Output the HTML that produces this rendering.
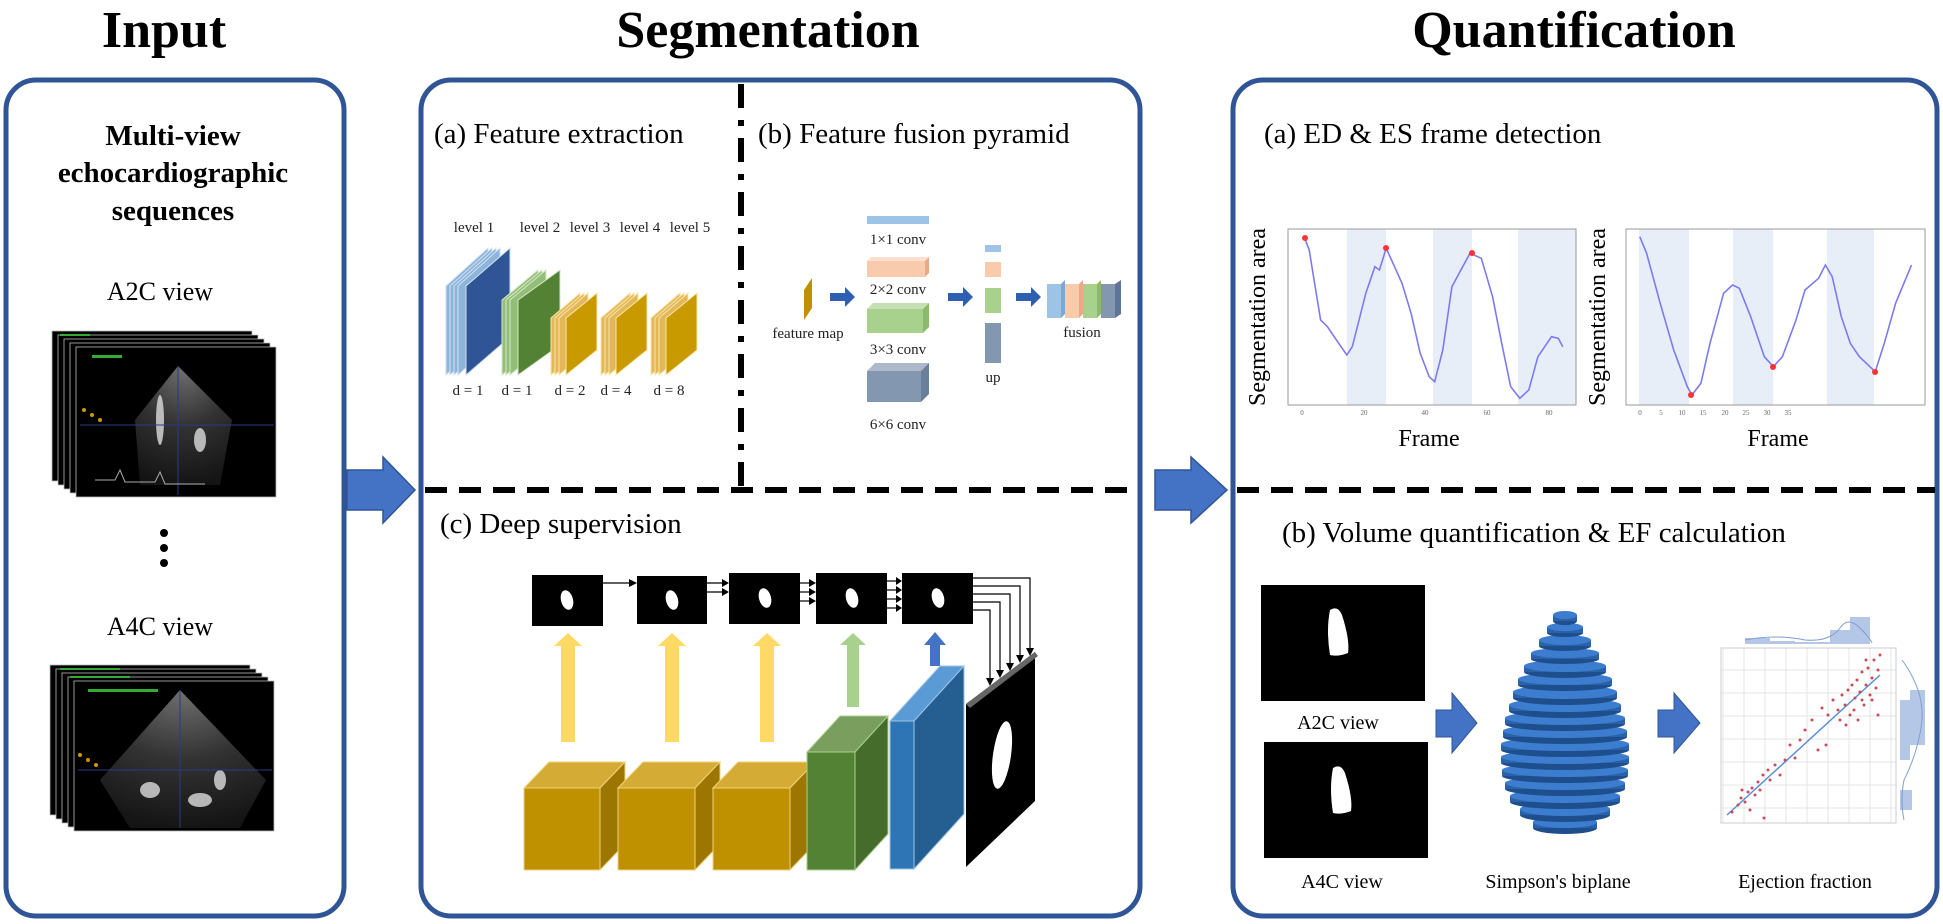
<!DOCTYPE html>
<html><head><meta charset="utf-8"><style>html,body{margin:0;padding:0;background:#fff}svg{display:block}text{font-family:"Liberation Serif",serif}</style></head>
<body>
<svg width="1943" height="924" viewBox="0 0 1943 924" xmlns="http://www.w3.org/2000/svg">
<defs>
<radialGradient id="fan" cx="0.5" cy="0" r="1"><stop offset="0" stop-color="#bbb"/><stop offset="0.5" stop-color="#555"/><stop offset="1" stop-color="#222"/></radialGradient>
</defs>
<g font-weight="bold" font-size="52" text-anchor="middle">
<text x="164" y="47">Input</text>
<text x="768" y="47">Segmentation</text>
<text x="1574" y="47">Quantification</text>
</g>
<g fill="none" stroke="#2F5597" stroke-width="5">
<rect x="6" y="80" width="338" height="836" rx="30"/>
<rect x="421" y="80" width="719" height="836" rx="30"/>
<rect x="1233" y="80" width="704" height="836" rx="30"/>
</g>
<g fill="#4472C4" stroke="#2F5597" stroke-width="1.5">
<polygon points="347,470 383,470 383,457 415,490 383,523 383,510 347,510"/>
<polygon points="1155,470 1191,470 1191,457 1227,490 1191,523 1191,510 1155,510"/>
</g>
<g stroke="#000" stroke-width="6" fill="none">
<line x1="425" y1="490" x2="1137" y2="490" stroke-dasharray="22 12"/>
<line x1="1237" y1="490" x2="1935" y2="490" stroke-dasharray="22 12"/>
<line x1="741" y1="84" x2="741" y2="490" stroke-dasharray="24 12 6 12"/>
</g>
<g font-weight="bold" font-size="29" text-anchor="middle">
<text x="173" y="145">Multi-view</text>
<text x="173" y="182">echocardiographic</text>
<text x="173" y="220">sequences</text>
</g>
<g font-size="26" text-anchor="middle">
<text x="160" y="300">A2C view</text>
<text x="160" y="635">A4C view</text>
</g>
<g stroke="#bbb" stroke-width="0.8" fill="#000">
<rect x="52" y="331" width="200" height="150"/><rect x="58" y="335" width="200" height="150"/><rect x="64" y="339" width="200" height="150"/><rect x="70" y="343" width="200" height="150"/><rect x="76" y="347" width="200" height="150"/>
<rect x="50" y="665" width="200" height="150"/><rect x="56" y="669" width="200" height="150"/><rect x="62" y="673" width="200" height="150"/><rect x="68" y="677" width="200" height="150"/><rect x="74" y="681" width="200" height="150"/>
</g>
<polygon points="178,366 135,420 140,485 220,485 232,420" fill="url(#fan)" opacity="0.6"/>
<polygon points="180,690 100,780 130,828 240,828 266,780" fill="url(#fan)" opacity="0.6"/>
<g fill="#ddd" opacity="0.8"><ellipse cx="160" cy="420" rx="4" ry="25"/><ellipse cx="200" cy="440" rx="6" ry="12"/><ellipse cx="150" cy="790" rx="10" ry="8"/><ellipse cx="200" cy="800" rx="12" ry="7"/><ellipse cx="220" cy="780" rx="6" ry="10"/></g>
<g stroke="#2a3a80" stroke-width="1"><line x1="80" y1="425" x2="274" y2="425"/><line x1="178" y1="366" x2="178" y2="495"/><line x1="78" y1="770" x2="272" y2="770"/><line x1="180" y1="690" x2="180" y2="828"/></g>
<g fill="#3a3" ><rect x="92" y="355" width="30" height="3"/><rect x="60" y="334" width="30" height="2"/><rect x="88" y="689" width="70" height="3"/><rect x="60" y="668" width="60" height="2"/><rect x="70" y="676" width="60" height="2"/></g>
<g fill="#c90"><circle cx="84" cy="410" r="2"/><circle cx="92" cy="415" r="2"/><circle cx="100" cy="420" r="2"/><circle cx="80" cy="755" r="2"/><circle cx="88" cy="760" r="2"/><circle cx="96" cy="765" r="2"/></g>
<path d="M95,480 l20,0 l5,-10 l5,12 l30,0 l5,-10 l5,12 l40,0" stroke="#aaa" fill="none" stroke-width="1"/>
<g fill="#000"><circle cx="164" cy="533" r="4"/><circle cx="164" cy="548" r="4"/><circle cx="164" cy="563" r="4"/></g>

<g font-size="29">
<text x="434" y="143">(a) Feature extraction</text>
<text x="758" y="143">(b) Feature fusion pyramid</text>
<text x="440" y="533">(c) Deep supervision</text>
</g>
<g font-size="15" text-anchor="middle" fill="#222">
<text x="474" y="232">level 1</text><text x="540" y="232">level 2</text><text x="590" y="232">level 3</text><text x="640" y="232">level 4</text><text x="690" y="232">level 5</text>
<text x="468" y="395">d = 1</text><text x="517" y="395">d = 1</text><text x="570" y="395">d = 2</text><text x="616" y="395">d = 4</text><text x="669" y="395">d = 8</text>
</g>
<g stroke="#cfe2f3" stroke-width="1">
<polygon points="446,286 488,248 488,337 446,375" fill="#8FB4DA"/><polygon points="450,286 492,248 492,337 450,375" fill="#8FB4DA"/><polygon points="454,286 496,248 496,337 454,375" fill="#8FB4DA"/><polygon points="458,286 500,248 500,337 458,375" fill="#8FB4DA"/>
<polygon points="466,286 510,248 510,337 466,375" fill="#2F5597"/>
</g>
<g stroke="#d5e8c8" stroke-width="1">
<polygon points="502,300 538,270 538,345 502,375" fill="#93BE78"/><polygon points="506,300 542,270 542,345 506,375" fill="#93BE78"/><polygon points="510,300 546,270 546,345 510,375" fill="#93BE78"/>
<polygon points="518,300 560,270 560,345 518,375" fill="#548235"/>
</g>
<g stroke="#fbe6a8" stroke-width="1">
<polygon points="551,318 580,293 580,350 551,375" fill="#E2B85A"/><polygon points="555,318 584,293 584,350 555,375" fill="#E2B85A"/><polygon points="559,318 588,293 588,350 559,375" fill="#E2B85A"/><polygon points="566,318 597,293 597,350 566,375" fill="#C89A00"/>
<polygon points="601,318 630,293 630,350 601,375" fill="#E2B85A"/><polygon points="605,318 634,293 634,350 605,375" fill="#E2B85A"/><polygon points="609,318 638,293 638,350 609,375" fill="#E2B85A"/><polygon points="616,318 647,293 647,350 616,375" fill="#C89A00"/>
<polygon points="651,318 680,293 680,350 651,375" fill="#E2B85A"/><polygon points="655,318 684,293 684,350 655,375" fill="#E2B85A"/><polygon points="659,318 688,293 688,350 659,375" fill="#E2B85A"/><polygon points="666,318 697,293 697,350 666,375" fill="#C89A00"/>
</g>
<polygon points="804,290 812,278 812,308 804,320" fill="#BF9000"/>
<g font-size="15" text-anchor="middle" fill="#222">
<text x="808" y="338">feature map</text>
<text x="898" y="244">1×1 conv</text><text x="898" y="294">2×2 conv</text><text x="898" y="354">3×3 conv</text><text x="898" y="429">6×6 conv</text>
<text x="993" y="382">up</text><text x="1082" y="337">fusion</text>
</g>
<rect x="867" y="216" width="62" height="8" fill="#9DC3E6"/>
<rect x="867" y="261" width="58" height="16" fill="#F8CBAD"/><polygon points="867,261 871,257 929,257 925,261" fill="#FBE0CF"/><polygon points="925,261 929,257 929,273 925,277" fill="#E9A989"/>
<rect x="867" y="309" width="56" height="24" fill="#A9D18E"/><polygon points="867,309 873,303 929,303 923,309" fill="#C5E0B4"/><polygon points="923,309 929,303 929,327 923,333" fill="#8DB96E"/>
<rect x="867" y="371" width="54" height="31" fill="#8497B0"/><polygon points="867,371 875,363 929,363 921,371" fill="#ADB9CA"/><polygon points="921,371 929,363 929,394 921,402" fill="#6A7F9C"/>
<rect x="985" y="245" width="16" height="7" fill="#9DC3E6"/>
<rect x="985" y="262" width="16" height="15" fill="#F8CBAD"/>
<rect x="985" y="288" width="16" height="25" fill="#A9D18E"/>
<rect x="985" y="323" width="16" height="40" fill="#8497B0"/>
<g>
<rect x="1047" y="284" width="14" height="34" fill="#9DC3E6"/><polygon points="1061,284 1065,280 1065,314 1061,318" fill="#7FA7D3"/>
<rect x="1065" y="284" width="14" height="34" fill="#F8CBAD"/><polygon points="1079,284 1083,280 1083,314 1079,318" fill="#E9A989"/>
<rect x="1083" y="284" width="14" height="34" fill="#A9D18E"/><polygon points="1097,284 1101,280 1101,314 1097,318" fill="#8DB96E"/>
<rect x="1101" y="284" width="14" height="34" fill="#8497B0"/><polygon points="1115,284 1121,280 1121,314 1115,318" fill="#5F7496"/>
</g>
<g fill="#2F5FB0">
<polygon points="830,293 845,293 845,287 855,297 845,307 845,301 830,301"/>
<polygon points="948,293 963,293 963,287 973,297 963,307 963,301 948,301"/>
<polygon points="1016,293 1031,293 1031,287 1041,297 1031,307 1031,301 1016,301"/>
</g>
<g fill="#000">
<rect x="532" y="575" width="71" height="51"/><rect x="637" y="576" width="70" height="48"/><rect x="729" y="573" width="71" height="51"/><rect x="816" y="573" width="71" height="51"/><rect x="902" y="573" width="71" height="51"/>
</g>
<g fill="#fff">
<ellipse cx="567" cy="600" rx="6" ry="10" transform="rotate(-15 567 600)"/>
<ellipse cx="672" cy="600" rx="6" ry="10" transform="rotate(-15 672 600)"/>
<ellipse cx="765" cy="598" rx="6" ry="10" transform="rotate(-15 765 598)"/>
<ellipse cx="852" cy="598" rx="6" ry="10" transform="rotate(-15 852 598)"/>
<ellipse cx="938" cy="598" rx="6" ry="10" transform="rotate(-15 938 598)"/>
</g>
<g stroke="#000" stroke-width="1.2" fill="none">
<line x1="603" y1="583" x2="633" y2="583"/>
<line x1="707" y1="583" x2="726" y2="583"/><line x1="707" y1="592" x2="726" y2="592"/>
<line x1="800" y1="583" x2="813" y2="583"/><line x1="800" y1="592" x2="813" y2="592"/><line x1="800" y1="601" x2="813" y2="601"/>
<line x1="887" y1="581" x2="899" y2="581"/><line x1="887" y1="590" x2="899" y2="590"/><line x1="887" y1="599" x2="899" y2="599"/><line x1="887" y1="608" x2="899" y2="608"/>
<polyline points="973,578 1030,578 1030,652"/><polyline points="973,586 1020,586 1020,659"/><polyline points="973,594 1010,594 1010,667"/><polyline points="973,602 1000,602 1000,674"/><polyline points="973,610 990,610 990,682"/>
</g>
<g fill="#000">
<polygon points="637,583 629,579 629,587"/>
<polygon points="729,583 722,579 722,587"/><polygon points="729,592 722,588 722,596"/>
<polygon points="816,583 809,579 809,587"/><polygon points="816,592 809,588 809,596"/><polygon points="816,601 809,597 809,605"/>
<polygon points="902,581 896,577 896,585"/><polygon points="902,590 896,586 896,594"/><polygon points="902,599 896,595 896,603"/><polygon points="902,608 896,604 896,612"/>
<polygon points="1030,656 1026,648 1034,648"/><polygon points="1020,663 1016,655 1024,655"/><polygon points="1010,671 1006,663 1014,663"/><polygon points="1000,678 996,670 1004,670"/><polygon points="990,686 986,678 994,678"/>
</g>
<g fill="#FFD966">
<polygon points="561,742 575,742 575,646 582,646 568,633 554,646 561,646"/>
<polygon points="665,742 679,742 679,646 686,646 672,633 658,646 665,646"/>
<polygon points="760,742 774,742 774,646 781,646 767,633 753,646 760,646"/>
</g>
<polygon points="847,707 859,707 859,645 866,645 853,633 840,645 847,645" fill="#A9D18E"/>
<polygon points="930,666 940,666 940,645 946,645 935,632 924,645 930,645" fill="#4472C4"/>
<g stroke="#F2D27A" stroke-width="1">
<polygon points="524,788 549,762 625,762 600,788" fill="#D4AC35"/><polygon points="600,788 625,762 625,844 600,870" fill="#9C7600"/><rect x="524" y="788" width="76" height="82" fill="#BF9000"/>
<polygon points="618,788 643,762 720,762 695,788" fill="#D4AC35"/><polygon points="695,788 720,762 720,844 695,870" fill="#9C7600"/><rect x="618" y="788" width="77" height="82" fill="#BF9000"/>
<polygon points="713,788 738,762 815,762 790,788" fill="#D4AC35"/><polygon points="790,788 815,762 815,844 790,870" fill="#9C7600"/><rect x="713" y="788" width="77" height="82" fill="#BF9000"/>
</g>
<g stroke="#A9D18E" stroke-width="1">
<polygon points="807,752 840,716 888,716 855,752" fill="#7A9E5E"/><polygon points="855,752 888,716 888,834 855,870" fill="#466C2C"/><rect x="807" y="752" width="48" height="118" fill="#548235"/>
</g>
<g stroke="#9DC3E6" stroke-width="1">
<polygon points="890,721 940,666 964,666 914,721" fill="#5B9BD5"/><polygon points="914,721 964,666 964,814 914,869" fill="#255E91"/><rect x="890" y="721" width="24" height="148" fill="#2E75B6"/>
</g>
<polygon points="966,704 1035,652 1035,801 966,867" fill="#000"/>
<polygon points="966,704 1035,652 1038,656 970,708" fill="#666"/>
<ellipse cx="1002" cy="755" rx="9" ry="34" fill="#fff" transform="rotate(8 1002 755)"/>

<g font-size="29">
<text x="1264" y="143">(a) ED &amp; ES frame detection</text>
<text x="1282" y="542">(b) Volume quantification &amp; EF calculation</text>
</g>
<g fill="#E8EEF8">
<rect x="1347" y="229" width="39" height="176"/><rect x="1433" y="229" width="39" height="176"/><rect x="1518" y="229" width="58" height="176"/>
<rect x="1639" y="229" width="50" height="176"/><rect x="1733" y="229" width="40" height="176"/><rect x="1827" y="229" width="47" height="176"/>
</g>
<g fill="none" stroke="#999" stroke-width="1">
<rect x="1288" y="229" width="288" height="176"/><rect x="1626" y="229" width="299" height="176"/>
</g>
<polyline fill="none" stroke="#7B7BF0" stroke-width="1.6" points="1304.7,238.3 1309.2,250 1320.6,320 1327.4,326.7 1338.7,343.3 1346.8,355 1352.3,346.7 1365.8,293.3 1374.9,266.7 1379.4,270 1386.2,248.3 1393,263.3 1402,283.3 1411.1,313.3 1420.2,353.3 1429.2,376.7 1434.7,381.7 1442.8,350 1451.9,286.7 1460.9,270 1470,253.3 1481.3,258.3 1492.6,296.7 1501.7,343.3 1510.7,386.7 1519.8,398.3 1528.8,390 1537.9,356.7 1547,343.3 1551.5,336.7 1558.3,338.3 1562.8,346.7"/>
<polyline fill="none" stroke="#7B7BF0" stroke-width="1.6" points="1639.8,236.7 1646.6,253.3 1660.2,303.3 1673.7,350 1687.3,386.7 1691.9,395 1700.9,383.3 1710,343.3 1723.6,293.3 1732.6,285 1739.4,288.3 1750.7,316.7 1764.3,356.7 1773.4,366.7 1782.4,356.7 1796,320 1805,290 1818.6,278.3 1825.4,265 1832.2,276.7 1841.3,316.7 1850.3,343.3 1859.4,356.7 1875.2,371.7 1884.3,343.3 1895.6,303.3 1911.5,265"/>
<g fill="#f33"><circle cx="1305" cy="238" r="3"/><circle cx="1386" cy="248" r="3"/><circle cx="1472" cy="253" r="3"/><circle cx="1691" cy="395" r="3"/><circle cx="1773" cy="367" r="3"/><circle cx="1875" cy="372" r="3"/></g>
<g font-size="7" fill="#666" text-anchor="middle">
<text x="1302" y="415">0</text><text x="1364" y="415">20</text><text x="1425" y="415">40</text><text x="1487" y="415">60</text><text x="1549" y="415">80</text>
<text x="1640" y="415">0</text><text x="1661" y="415">5</text><text x="1682" y="415">10</text><text x="1703" y="415">15</text><text x="1725" y="415">20</text><text x="1746" y="415">25</text><text x="1767" y="415">30</text><text x="1788" y="415">35</text>
</g>
<g font-size="24" text-anchor="middle">
<text x="1429" y="446">Frame</text><text x="1778" y="446">Frame</text>
<text transform="translate(1265 317) rotate(-90)">Segmentation area</text>
<text transform="translate(1605 317) rotate(-90)">Segmentation area</text>
</g>
<rect x="1261" y="585" width="164" height="116" fill="#000"/>
<rect x="1264" y="742" width="164" height="116" fill="#000"/>
<path d="M1330,610 q8,-5 12,5 q8,25 6,38 q-10,4 -18,2 q-4,-25 0,-45z" fill="#fff"/>
<path d="M1333,768 q8,-5 12,5 q8,25 6,38 q-10,4 -18,2 q-4,-25 0,-45z" fill="#fff"/>
<g font-size="20" text-anchor="middle">
<text x="1338" y="729">A2C view</text><text x="1342" y="888">A4C view</text>
<text x="1558" y="888">Simpson's biplane</text><text x="1805" y="888">Ejection fraction</text>
</g>
<g fill="#4472C4" stroke="#2F5597">
<polygon points="1436,710 1452,710 1452,693 1477,723 1452,753 1452,737 1436,737"/>
<polygon points="1658,710 1674,710 1674,693 1700,723 1674,753 1674,737 1658,737"/>
</g>
<g>
<g><ellipse cx="1565" cy="828" rx="32" ry="6" fill="#1F4E8C"/><rect x="1533" y="822" width="64" height="6" fill="#2A62AA"/><ellipse cx="1565" cy="822" rx="32" ry="6" fill="#3C7DD0"/></g>
<g><ellipse cx="1565" cy="815" rx="45" ry="7" fill="#1F4E8C"/><rect x="1520" y="809" width="90" height="6" fill="#2A62AA"/><ellipse cx="1565" cy="809" rx="45" ry="7" fill="#3C7DD0"/></g>
<g><ellipse cx="1565" cy="802" rx="55" ry="7" fill="#1F4E8C"/><rect x="1510" y="796" width="110" height="6" fill="#2A62AA"/><ellipse cx="1565" cy="796" rx="55" ry="7" fill="#3C7DD0"/></g>
<g><ellipse cx="1565" cy="789" rx="60" ry="7" fill="#1F4E8C"/><rect x="1505" y="783" width="120" height="6" fill="#2A62AA"/><ellipse cx="1565" cy="783" rx="60" ry="7" fill="#3C7DD0"/></g>
<g><ellipse cx="1565" cy="776" rx="63" ry="7" fill="#1F4E8C"/><rect x="1502" y="770" width="126" height="6" fill="#2A62AA"/><ellipse cx="1565" cy="770" rx="63" ry="7" fill="#3C7DD0"/></g>
<g><ellipse cx="1565" cy="763" rx="64" ry="7" fill="#1F4E8C"/><rect x="1501" y="757" width="128" height="6" fill="#2A62AA"/><ellipse cx="1565" cy="757" rx="64" ry="7" fill="#3C7DD0"/></g>
<g><ellipse cx="1565" cy="750" rx="64" ry="7" fill="#1F4E8C"/><rect x="1501" y="744" width="128" height="6" fill="#2A62AA"/><ellipse cx="1565" cy="744" rx="64" ry="7" fill="#3C7DD0"/></g>
<g><ellipse cx="1565" cy="737" rx="62" ry="7" fill="#1F4E8C"/><rect x="1503" y="731" width="124" height="6" fill="#2A62AA"/><ellipse cx="1565" cy="731" rx="62" ry="7" fill="#3C7DD0"/></g>
<g><ellipse cx="1565" cy="724" rx="60" ry="7" fill="#1F4E8C"/><rect x="1505" y="718" width="120" height="6" fill="#2A62AA"/><ellipse cx="1565" cy="718" rx="60" ry="7" fill="#3C7DD0"/></g>
<g><ellipse cx="1565" cy="711" rx="56" ry="7" fill="#1F4E8C"/><rect x="1509" y="705" width="112" height="6" fill="#2A62AA"/><ellipse cx="1565" cy="705" rx="56" ry="7" fill="#3C7DD0"/></g>
<g><ellipse cx="1565" cy="698" rx="52" ry="7" fill="#1F4E8C"/><rect x="1513" y="692" width="104" height="6" fill="#2A62AA"/><ellipse cx="1565" cy="692" rx="52" ry="7" fill="#3C7DD0"/></g>
<g><ellipse cx="1565" cy="685" rx="47" ry="6" fill="#1F4E8C"/><rect x="1518" y="679" width="94" height="6" fill="#2A62AA"/><ellipse cx="1565" cy="679" rx="47" ry="6" fill="#3C7DD0"/></g>
<g><ellipse cx="1565" cy="672" rx="41" ry="6" fill="#1F4E8C"/><rect x="1524" y="666" width="82" height="6" fill="#2A62AA"/><ellipse cx="1565" cy="666" rx="41" ry="6" fill="#3C7DD0"/></g>
<g><ellipse cx="1565" cy="659" rx="34" ry="5" fill="#1F4E8C"/><rect x="1531" y="653" width="68" height="6" fill="#2A62AA"/><ellipse cx="1565" cy="653" rx="34" ry="5" fill="#3C7DD0"/></g>
<g><ellipse cx="1565" cy="646" rx="26" ry="5" fill="#1F4E8C"/><rect x="1539" y="640" width="52" height="6" fill="#2A62AA"/><ellipse cx="1565" cy="640" rx="26" ry="5" fill="#3C7DD0"/></g>
<g><ellipse cx="1565" cy="633" rx="18" ry="4" fill="#1F4E8C"/><rect x="1547" y="627" width="36" height="6" fill="#2A62AA"/><ellipse cx="1565" cy="627" rx="18" ry="4" fill="#3C7DD0"/></g>
<g><ellipse cx="1565" cy="621" rx="12" ry="4" fill="#1F4E8C"/><rect x="1553" y="615" width="24" height="6" fill="#2A62AA"/><ellipse cx="1565" cy="615" rx="12" ry="4" fill="#3C7DD0"/></g>
</g>
<g stroke="#e4e4e4" stroke-width="1">
<line x1="1723" y1="648" x2="1723" y2="823"/><line x1="1744" y1="648" x2="1744" y2="823"/><line x1="1765" y1="648" x2="1765" y2="823"/><line x1="1786" y1="648" x2="1786" y2="823"/><line x1="1807" y1="648" x2="1807" y2="823"/><line x1="1828" y1="648" x2="1828" y2="823"/><line x1="1849" y1="648" x2="1849" y2="823"/><line x1="1870" y1="648" x2="1870" y2="823"/><line x1="1891" y1="648" x2="1891" y2="823"/>
<line x1="1721" y1="670" x2="1896" y2="670"/><line x1="1721" y1="693" x2="1896" y2="693"/><line x1="1721" y1="716" x2="1896" y2="716"/><line x1="1721" y1="739" x2="1896" y2="739"/><line x1="1721" y1="762" x2="1896" y2="762"/><line x1="1721" y1="785" x2="1896" y2="785"/><line x1="1721" y1="808" x2="1896" y2="808"/>
</g>
<rect x="1721" y="648" width="175" height="175" fill="none" stroke="#ccc"/>
<path d="M1745,644 L1745,638 1770,638 1770,641 1795,641 1795,642 1830,642 1830,630 1850,630 1850,617 1870,617 1870,644z" fill="#B4C7E7"/>
<path d="M1745,640 q30,-6 60,0 q25,2 35,-12 q8,-12 20,0 q10,10 12,15" fill="none" stroke="#7F9ED0"/>
<path d="M1900,700 L1910,700 1910,690 1925,690 1925,745 1910,745 1910,760 1900,760z M1900,790 L1912,790 1912,810 1900,810z" fill="#B4C7E7"/>
<path d="M1902,660 q22,30 20,60 q-3,30 -18,60 q-4,20 0,40" fill="none" stroke="#7F9ED0"/>
<line x1="1727" y1="815" x2="1880" y2="675" stroke="#5B8DD6" stroke-width="1.5"/>
<g fill="#C94C5A">
<circle cx="1732" cy="812" r="1.5"/><circle cx="1738" cy="805" r="1.5"/><circle cx="1741" cy="798" r="1.5"/><circle cx="1745" cy="802" r="1.5"/><circle cx="1748" cy="792" r="1.5"/><circle cx="1752" cy="788" r="1.5"/><circle cx="1755" cy="795" r="1.5"/><circle cx="1758" cy="782" r="1.5"/><circle cx="1742" cy="790" r="1.5"/><circle cx="1750" cy="810" r="1.5"/><circle cx="1760" cy="790" r="1.5"/><circle cx="1763" cy="775" r="1.5"/><circle cx="1768" cy="770" r="1.5"/><circle cx="1770" cy="780" r="1.5"/><circle cx="1775" cy="765" r="1.5"/><circle cx="1764" cy="818" r="1.5"/><circle cx="1780" cy="775" r="1.5"/><circle cx="1785" cy="760" r="1.5"/><circle cx="1790" cy="745" r="1.5"/><circle cx="1795" cy="758" r="1.5"/><circle cx="1800" cy="740" r="1.5"/><circle cx="1805" cy="730" r="1.5"/><circle cx="1812" cy="720" r="1.5"/><circle cx="1818" cy="750" r="1.5"/><circle cx="1822" cy="708" r="1.5"/><circle cx="1828" cy="715" r="1.5"/><circle cx="1833" cy="700" r="1.5"/><circle cx="1838" cy="710" r="1.5"/><circle cx="1842" cy="695" r="1.5"/><circle cx="1845" cy="705" r="1.5"/><circle cx="1848" cy="690" r="1.5"/><circle cx="1850" cy="715" r="1.5"/><circle cx="1852" cy="685" r="1.5"/><circle cx="1855" cy="698" r="1.5"/><circle cx="1857" cy="680" r="1.5"/><circle cx="1860" cy="692" r="1.5"/><circle cx="1862" cy="672" r="1.5"/><circle cx="1864" cy="705" r="1.5"/><circle cx="1866" cy="685" r="1.5"/><circle cx="1868" cy="668" r="1.5"/><circle cx="1870" cy="695" r="1.5"/><circle cx="1872" cy="678" r="1.5"/><circle cx="1874" cy="660" r="1.5"/><circle cx="1876" cy="688" r="1.5"/><circle cx="1878" cy="670" r="1.5"/><circle cx="1880" cy="655" r="1.5"/><circle cx="1858" cy="720" r="1.5"/><circle cx="1846" cy="725" r="1.5"/><circle cx="1862" cy="700" r="1.5"/><circle cx="1854" cy="710" r="1.5"/><circle cx="1872" cy="700" r="1.5"/><circle cx="1878" cy="715" r="1.5"/><circle cx="1840" cy="720" r="1.5"/><circle cx="1866" cy="660" r="1.5"/><circle cx="1826" cy="745" r="1.5"/>
</g>
</svg>
</body></html>
